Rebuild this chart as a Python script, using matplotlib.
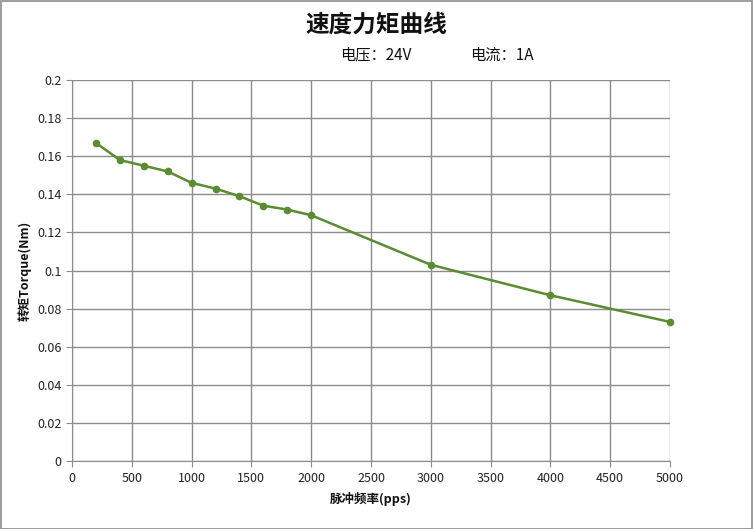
import matplotlib
matplotlib.use("Agg")
import matplotlib.pyplot as plt
from matplotlib.patches import Rectangle

plt.rcParams['font.family'] = ['Noto Sans CJK SC', 'DejaVu Sans']

title = "速度力矩曲线"
subtitle_v = "电压：24V"
subtitle_i = "电流：1A"
xlabel = "脉冲频率(pps)"
ylabel = "转矩Torque(Nm)"

freq = [200, 400, 600, 800, 1000, 1200, 1400, 1600, 1800, 2000, 3000, 4000, 5000]
torque = [0.167, 0.158, 0.155, 0.152, 0.146, 0.143, 0.139, 0.134, 0.132, 0.129, 0.103, 0.087, 0.073]
xticks = [0, 500, 1000, 1500, 2000, 2500, 3000, 3500, 4000, 4500, 5000]
yticks = [0, 0.02, 0.04, 0.06, 0.08, 0.1, 0.12, 0.14, 0.16, 0.18, 0.2]
ytick_labels = ["0", "0.02", "0.04", "0.06", "0.08", "0.1", "0.12", "0.14", "0.16", "0.18", "0.2"]

W, H = 753, 529
fig = plt.figure(figsize=(W / 100, H / 100), dpi=100)
ax = fig.add_axes([72 / W, 1 - 461 / H, (670 - 72) / W, (461 - 80) / H])

line_color = '#5b8c32'
grid_color = '#8c8c8c'
ax.plot(freq, torque, color=line_color, lw=1.8, marker='o', ms=4.5, zorder=3, clip_on=False)

ax.set_xlim(0, 5000)
ax.set_ylim(0, 0.2)
ax.set_xticks(xticks)
ax.set_xticklabels([str(t) for t in xticks])
ax.set_yticks(yticks)
ax.set_yticklabels(ytick_labels)
ax.grid(True, color=grid_color, lw=1)
for s in ['top', 'right']:
    ax.spines[s].set_visible(False)
for s in ['left', 'bottom']:
    ax.spines[s].set_color(grid_color)
ax.tick_params(axis='both', colors=grid_color, labelcolor='#222222', labelsize=9,
               length=4, direction='out')
ax.tick_params(axis='x', pad=4)
ax.set_axisbelow(True)

ax.set_xlabel(xlabel, fontsize=9, fontweight='bold', color='#111111', labelpad=5)
ax.set_ylabel(ylabel, fontsize=9, fontweight='bold', color='#111111', labelpad=4)

fig.text(376 / W, 1 - 25 / H, title, ha='center', va='center', fontsize=17,
         fontweight='bold', color='#111111')
fig.text(340 / W, 1 - 55 / H, subtitle_v, ha='left', va='center', fontsize=11, color='#111111')
fig.text(470 / W, 1 - 55 / H, subtitle_i, ha='left', va='center', fontsize=11, color='#111111')

fig.patches.append(Rectangle((0.5 / W, 0.5 / H), 1 - 1.5 / W, 1 - 1.5 / H,
                             transform=fig.transFigure, fill=False,
                             edgecolor='#8c8c8c', lw=1.2))

fig.savefig("out.png", dpi=100)
